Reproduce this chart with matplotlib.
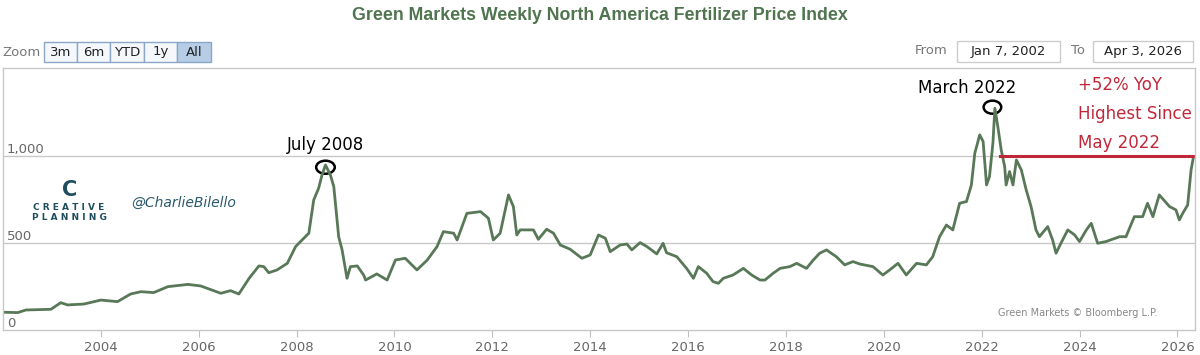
import matplotlib.pyplot as plt
from matplotlib.patches import Rectangle, Ellipse

# Weekly index (decimal years)
years = [2002.01, 2002.30, 2002.47, 2002.98, 2003.18, 2003.32, 2003.65, 2004.00, 2004.34, 2004.61,
         2004.82, 2005.08, 2005.37, 2005.78, 2006.04, 2006.45, 2006.65, 2006.82, 2007.03, 2007.23,
         2007.33, 2007.43, 2007.60, 2007.81, 2007.98, 2008.08, 2008.25, 2008.35, 2008.45, 2008.52,
         2008.59, 2008.69, 2008.76, 2008.86, 2008.93, 2009.03, 2009.10, 2009.24, 2009.37, 2009.41,
         2009.64, 2009.85, 2010.02, 2010.22, 2010.46, 2010.67, 2010.87, 2011.00, 2011.21, 2011.28,
         2011.48, 2011.76, 2011.92, 2012.02, 2012.16, 2012.33, 2012.43, 2012.50, 2012.57, 2012.84,
         2012.94, 2013.11, 2013.25, 2013.39, 2013.59, 2013.83, 2014.00, 2014.17, 2014.31, 2014.41,
         2014.61, 2014.75, 2014.85, 2015.02, 2015.16, 2015.36, 2015.49, 2015.56, 2015.77, 2015.97,
         2016.11, 2016.21, 2016.38, 2016.51, 2016.62, 2016.72, 2016.92, 2017.13, 2017.30, 2017.47,
         2017.57, 2017.74, 2017.88, 2018.08, 2018.22, 2018.42, 2018.56, 2018.69, 2018.83, 2019.03,
         2019.20, 2019.37, 2019.51, 2019.78, 2019.98, 2020.12, 2020.29, 2020.46, 2020.67, 2020.87,
         2021.00, 2021.14, 2021.28, 2021.41, 2021.55, 2021.69, 2021.79, 2021.86, 2021.96, 2022.03,
         2022.10, 2022.16, 2022.23, 2022.27, 2022.33, 2022.40, 2022.47, 2022.50, 2022.57, 2022.64,
         2022.71, 2022.81, 2022.91, 2023.01, 2023.11, 2023.18, 2023.35, 2023.45, 2023.52, 2023.62,
         2023.76, 2023.90, 2024.00, 2024.14, 2024.24, 2024.37, 2024.54, 2024.82, 2024.95, 2025.12,
         2025.29, 2025.39, 2025.50, 2025.63, 2025.84, 2025.97, 2026.04, 2026.11, 2026.21, 2026.28,
         2026.33]
index = [102, 100, 115, 119, 157, 144, 149, 172, 163, 207,
         220, 215, 249, 262, 253, 211, 226, 207, 297, 368,
         364, 329, 345, 383, 479, 508, 556, 747, 814, 891,
         948, 891, 824, 536, 460, 297, 364, 368, 316, 287,
         322, 287, 402, 412, 345, 402, 479, 565, 556, 517,
         670, 680, 642, 517, 556, 776, 709, 546, 575, 575,
         521, 579, 556, 488, 464, 412, 431, 546, 527, 450,
         488, 494, 460, 502, 479, 437, 498, 444, 421, 354,
         297, 364, 326, 278, 268, 297, 316, 354, 316, 287,
         287, 326, 354, 364, 383, 354, 402, 441, 460, 421,
         374, 393, 379, 364, 316, 345, 383, 316, 383, 374,
         421, 536, 603, 575, 728, 738, 833, 1015, 1121, 1083,
         833, 881, 1073, 1274, 1169, 1034, 939, 833, 910, 833,
         977, 920, 805, 709, 575, 536, 594, 517, 441, 498,
         575, 546, 508, 575, 613, 498, 508, 536, 536, 651,
         651, 728, 651, 776, 709, 690, 632, 671, 718, 920,
         996]

year_ticks = [2004, 2006, 2008, 2010, 2012, 2014, 2016, 2018, 2020, 2022, 2024, 2026]
y_ticks = [0, 500, 1000]
y_labels = ['0', '500', '1,000']
zoom_buttons = ['3m', '6m', 'YTD', '1y', 'All']

W, H = 1200, 355


def fx(x):
    return x / W


def fy(y):
    return 1 - y / H


fig = plt.figure(figsize=(12, 3.55), dpi=100)
ax = fig.add_axes([fx(3), fy(330), fx(1195) - fx(3), fy(68) - fy(330)])

ax.plot(years, index, color='#587858', lw=2.0, solid_joinstyle='round')
ax.set_xlim(2002.0, 2026.36)
ax.set_ylim(0, 1505)

for v, lab in zip(y_ticks, y_labels):
    if v > 0:
        ax.axhline(v, color='#c8c8c8', lw=1, zorder=0)
    ax.text(2002.08, v + 38, lab, fontsize=9.5, color='#666666', va='center', ha='left')

ax.set_yticks([])
ax.set_xticks(year_ticks)
ax.set_xticklabels([str(y) for y in year_ticks], fontsize=9.5, color='#666666')
ax.tick_params(axis='x', length=5, color='#c0c0c0', pad=3)
for s in ax.spines.values():
    s.set_color('#c8c8c8')
    s.set_linewidth(1)

# annotations
ax.add_patch(Ellipse((2008.59, 935), 0.38, 75, fill=False, ec='black', lw=1.8))
ax.text(2008.6, 1010, 'July 2008', fontsize=12, ha='center', va='bottom', color='black')
ax.add_patch(Ellipse((2022.22, 1280), 0.36, 75, fill=False, ec='black', lw=1.8))
ax.text(2021.7, 1340, 'March 2022', fontsize=12, ha='center', va='bottom', color='black')
ax.plot([2022.38, 2026.36], [1000, 1000], color='#c0283a', lw=2.2)
for i, line in enumerate(['+52% YoY', 'Highest Since', 'May 2022']):
    ax.text(2023.97, 1405 - i * 165, line, fontsize=12, color='#c0283a', ha='left', va='center')

ax.text(2025.6, 70, 'Green Markets \u00a9 Bloomberg L.P.', fontsize=7, color='#888888',
        ha='right', va='bottom')

# title and header controls
fig.text(0.5, fy(16), 'Green Markets Weekly North America Fertilizer Price Index',
         fontsize=12.8, fontweight='bold', color='#4f744f', ha='center', va='center',
         family='Liberation Sans')
fig.text(fx(2), fy(52), 'Zoom', fontsize=9.5, color='#777777', ha='left', va='center')
edges = [44, 77, 110, 144, 177, 211]
for i, b in enumerate(zoom_buttons):
    sel = b == 'All'
    fig.add_artist(Rectangle((fx(edges[i]), fy(62)), fx(edges[i + 1] - edges[i]), fy(42) - fy(62),
                             transform=fig.transFigure, fc='#b7cde6' if sel else '#f4f8fc',
                             ec='#8aa7c8', lw=1))
    fig.text(fx((edges[i] + edges[i + 1]) / 2), fy(52), b, fontsize=9.5, color='#222222',
             ha='center', va='center')

fig.text(fx(948), fy(51), 'From', fontsize=9.5, color='#777777', ha='right', va='center')
fig.add_artist(Rectangle((fx(957), fy(62)), fx(103), fy(41) - fy(62), transform=fig.transFigure,
                         fc='white', ec='#cccccc', lw=1))
fig.text(fx(1008), fy(51), 'Jan 7, 2002', fontsize=9.5, color='#222222', ha='center', va='center')
fig.text(fx(1085), fy(51), 'To', fontsize=9.5, color='#777777', ha='right', va='center')
fig.add_artist(Rectangle((fx(1093), fy(62)), fx(100), fy(41) - fy(62), transform=fig.transFigure,
                         fc='white', ec='#cccccc', lw=1))
fig.text(fx(1143), fy(51), 'Apr 3, 2026', fontsize=9.5, color='#222222', ha='center', va='center')

# branding
fig.text(fx(70), fy(190), 'C', fontsize=15, fontweight='bold', color='#1f4e5f', ha='center', va='center')
fig.text(fx(69), fy(207), 'C R E A T I V E', fontsize=6.5, fontweight='bold', color='#1f4e5f',
         ha='center', va='center')
fig.text(fx(69), fy(217), 'P L A N N I N G', fontsize=6.5, fontweight='bold', color='#1f4e5f',
         ha='center', va='center')
fig.text(fx(131), fy(203), '@CharlieBilello', fontsize=10, style='italic', color='#2b5a6e',
         ha='left', va='center')

fig.savefig('out.png', dpi=100)
